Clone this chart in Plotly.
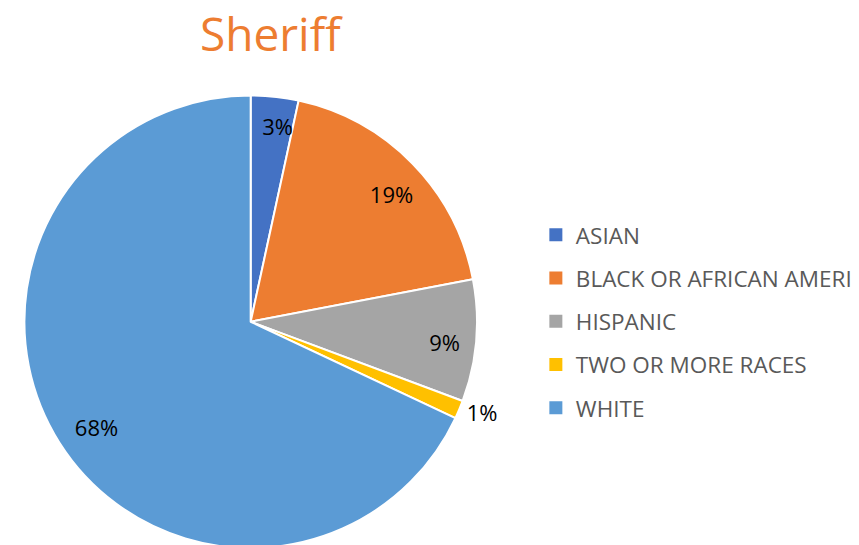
import plotly.graph_objects as go

labels = ["ASIAN", "BLACK OR AFRICAN AMERI", "HISPANIC", "TWO OR MORE RACES", "WHITE"]
values = [3.4, 18.6, 8.7, 1.3, 68.0]
colors = ["#4472C4", "#ED7D31", "#A5A5A5", "#FFC000", "#5B9BD5"]
outside = [False, False, False, True, False]  # which slice label sits outside

_FONT = "Open Sans, Arial, sans-serif"
LBL_FONT = dict(size=22, color="#000000", family=_FONT)

fig = go.Figure()
# coloured slices, carrying the one outside label
fig.add_trace(go.Pie(
    labels=labels, values=values,
    sort=False, direction="clockwise", rotation=0,
    marker=dict(colors=colors, line=dict(color="#FFFFFF", width=2)),
    texttemplate="%{percent:.0%}",
    textposition=["outside" if o else "none" for o in outside],
    textfont=LBL_FONT,
    domain=dict(x=[0.016, 0.549], y=[0.0, 0.838]),
    showlegend=False,
    hoverinfo="label+percent",
))
# label layer: transparent ring so the inside percentages sit out towards the rim
fig.add_trace(go.Pie(
    labels=labels, values=values,
    sort=False, direction="clockwise", rotation=0, hole=0.7,
    marker=dict(colors=["rgba(0,0,0,0)"] * len(labels), line=dict(width=0)),
    texttemplate="%{percent:.0%}",
    textposition=["none" if o else "inside" for o in outside],
    insidetextorientation="horizontal",
    textfont=LBL_FONT,
    domain=dict(x=[0.0275, 0.5502], y=[0.0, 0.8239]),
    showlegend=False,
    hoverinfo="skip",
))

# legend entries (one group each so the spacing can be opened up)
for i, lab in enumerate(labels):
    fig.add_trace(go.Scatter(
        x=[None], y=[None], mode="markers", name=lab,
        marker=dict(symbol="square", size=13, color=colors[i]),
        legendgroup=f"g{i}", showlegend=True,
    ))

fig.update_layout(
    width=859, height=545,
    margin=dict(l=0, r=0, t=0, b=0),
    paper_bgcolor="#FFFFFF", plot_bgcolor="#FFFFFF",
    font=dict(family=_FONT),
    xaxis=dict(visible=False), yaxis=dict(visible=False),
    legend=dict(x=0.6145, xanchor="left", y=0.419, yanchor="middle",
                font=dict(size=22.5, color="#595959", family=_FONT),
                tracegroupgap=11, bgcolor="rgba(0,0,0,0)"),
    annotations=[dict(
        text="Sheriff", x=0.307, y=1.0, xref="paper", yref="paper",
        xanchor="center", yanchor="top", yshift=8, showarrow=False,
        font=dict(size=46, color="#ED7D31", family=_FONT),
    )],
)

fig.write_html("out.html")
